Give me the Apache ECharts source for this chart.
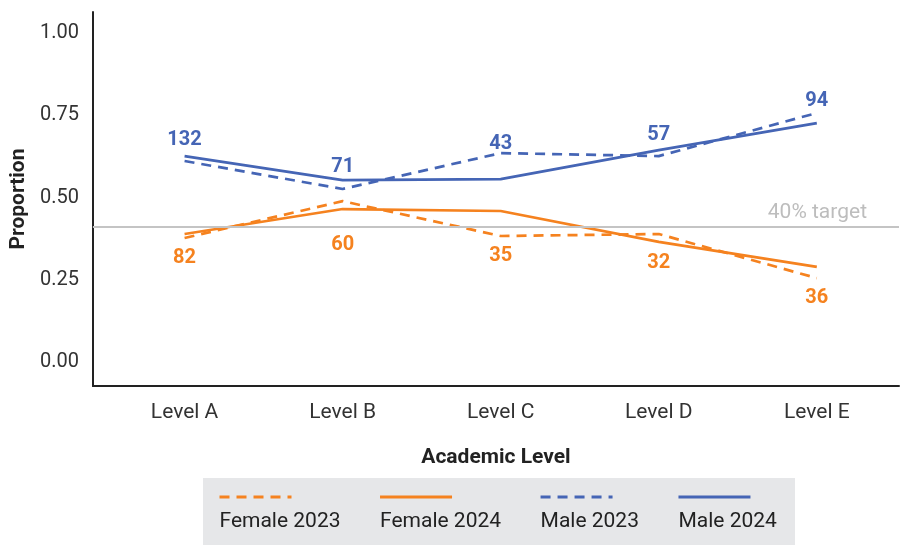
<!DOCTYPE html>
<html><head><meta charset="utf-8">
<script src="https://cdn.jsdelivr.net/npm/echarts@6/dist/echarts.min.js"></script>
<style>html,body{margin:0;padding:0;background:#fff}#c{width:906px;height:545px}</style>
</head><body><div id="c"></div>
<script>
const categories = ['Level A', 'Level B', 'Level C', 'Level D', 'Level E'];
const female2023 = [0.377, 0.489, 0.383, 0.389, 0.255];
const female2024 = [0.389, 0.465, 0.459, 0.365, 0.289];
const male2023 = [0.611, 0.526, 0.635, 0.626, 0.757];
const male2024 = [0.626, 0.553, 0.556, 0.644, 0.726];
const maleCounts = [132, 71, 43, 57, 94];
const femaleCounts = [82, 60, 35, 32, 36];
const targetValue = 0.407;
const targetLabel = '40% target';
const yTicks = [0, 0.25, 0.5, 0.75, 1];

const ORANGE = '#f5821f', BLUE = '#4565b5', FONT = 'Roboto';
const chart = echarts.init(document.getElementById('c'));
const pts = arr => arr.map((v, i) => [i, v]);
const lw = 2.7;
const dashed = { type: [10, 7], width: lw };

// label anchors: counts placed at max (male) / min (female) of the two years
const maleLabelPts = maleCounts.map((c, i) => ({ value: [i, Math.max(male2023[i], male2024[i])], count: c }));
const femaleLabelPts = femaleCounts.map((c, i) => ({ value: [i, Math.min(female2023[i], female2024[i])], count: c }));

function labelSeries(data, color, pos, dist, extraOffsets) {
  return {
    type: 'scatter', symbolSize: 0, silent: true, z: 5,
    itemStyle: { opacity: 1 },
    data: data.map((d, i) => ({
      value: d.value,
      label: { offset: [0, extraOffsets[i] || 0] }
    })),
    label: {
      show: true, position: pos, distance: dist, opacity: 1,
      formatter: p => String(data[p.dataIndex].count),
      color: color, fontFamily: FONT, fontWeight: 'bold', fontSize: 20
    },
    tooltip: { show: false }
  };
}

chart.setOption({
  animation: false,
  textStyle: { fontFamily: FONT },
  grid: { left: 92, right: 7, top: 12, bottom: 159, containLabel: false },
  xAxis: {
    type: 'value', min: -0.58, max: 4.52,
    name: 'Academic Level', nameLocation: 'middle', nameGap: 61,
    nameTextStyle: { fontFamily: FONT, fontWeight: 'bold', fontSize: 21, color: '#222' },
    axisLine: { show: true, onZero: false, lineStyle: { color: '#222', width: 2 } },
    axisTick: { show: false },
    splitLine: { show: false },
    axisLabel: {
      customValues: [0, 1, 2, 3, 4],
      formatter: v => categories[Math.round(v)] || '',
      fontFamily: FONT, fontSize: 21, color: '#333', margin: 16
    }
  },
  yAxis: {
    type: 'value', min: -0.073, max: 1.064,
    name: 'Proportion', nameLocation: 'middle', nameGap: 61, nameRotate: 90,
    nameTextStyle: { fontFamily: FONT, fontWeight: 'bold', fontSize: 21, color: '#222' },
    axisLine: { show: true, onZero: false, lineStyle: { color: '#222', width: 2 } },
    axisTick: { show: false },
    splitLine: { show: false },
    axisLabel: {
      customValues: yTicks,
      formatter: v => v.toFixed(2),
      fontFamily: FONT, fontSize: 20, color: '#333', margin: 14
    }
  },
  legend: {
    left: 218, top: 447, padding: 0, itemGap: 38,
    itemWidth: 72, itemHeight: 14,
    itemStyle: { opacity: 0, borderWidth: 0 },
    lineStyle: { width: 3 },
    data: ['Female 2023', 'Female 2024', 'Male 2023', 'Male 2024'],
    formatter: n => '\n' + n,
    textStyle: { fontFamily: FONT, fontSize: 21, color: '#222', lineHeight: 50, padding: [0, 0, 0, -77] }
  },
  graphic: [{
    type: 'rect', z: -10, silent: true,
    shape: { x: 203, y: 478, width: 592, height: 70 },
    style: { fill: '#e6e7e9' }
  }],
  series: [
    { name: 'Female 2023', type: 'line', data: pts(female2023), symbol: 'none',
      lineStyle: Object.assign({ color: ORANGE }, dashed), itemStyle: { color: ORANGE }, z: 3,
      markLine: {
        silent: true, symbol: 'none',
        lineStyle: { color: '#c4c4c4', type: 'solid', width: 2 },
        label: { show: true, position: 'insideEndTop', formatter: targetLabel, color: '#bdbdbd',
                 fontFamily: FONT, fontSize: 21, distance: [32, 4] },
        data: [{ yAxis: targetValue }]
      } },
    { name: 'Female 2024', type: 'line', data: pts(female2024), symbol: 'none',
      lineStyle: { color: ORANGE, width: lw }, itemStyle: { color: ORANGE }, z: 3 },
    { name: 'Male 2023', type: 'line', data: pts(male2023), symbol: 'none',
      lineStyle: Object.assign({ color: BLUE }, dashed), itemStyle: { color: BLUE }, z: 3 },
    { name: 'Male 2024', type: 'line', data: pts(male2024), symbol: 'none',
      lineStyle: { color: BLUE, width: lw }, itemStyle: { color: BLUE }, z: 3 },
    labelSeries(maleLabelPts, BLUE, 'top', 5, [-1, 2, 6, 0, 3]),
    labelSeries(femaleLabelPts, ORANGE, 'bottom', 10, [0, 16, 0, 1, 0])
  ]
});
</script></body></html>
